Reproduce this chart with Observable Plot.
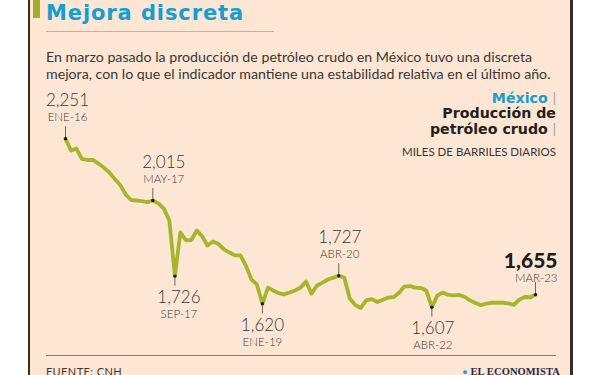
<!DOCTYPE html>
<html>
<head>
<meta charset="utf-8">
<script src="https://cdn.jsdelivr.net/npm/d3@7"></script>
<script src="https://cdn.jsdelivr.net/npm/@observablehq/plot@0.6"></script>
<style>
  html, body { margin: 0; padding: 0; background: #ffffff; }
  #wrap { position: relative; width: 600px; height: 375px; overflow: hidden; background: #ffffff; font-family: Lato, "Open Sans", sans-serif; color: #3b3634; }
  #panel { position: absolute; left: 28px; top: 0; width: 545px; height: 375px; background: #fde6d4; border-left: 2.5px solid #3a2b23; border-right: 3px solid #3a2b23; box-sizing: border-box; }
  #bar { position: absolute; left: 33px; top: 0; width: 7px; height: 18px; background: #a5ad2c; }
  .t { position: absolute; white-space: nowrap; line-height: 1; }
  #title { left: 46px; top: 3.2px; font-family: "DejaVu Sans", sans-serif; font-size: 21px; font-weight: 700; color: #169ed0; letter-spacing: 0.9px; }
  #rule1 { position: absolute; left: 46px; top: 31px; width: 228px; height: 1px; background: #a9b8bf; }
  #sub { position: absolute; left: 46px; top: 48px; font-size: 14.2px; line-height: 17px; color: #3b3634; white-space: nowrap; }
  .leg { right: 44px; text-align: right; font-family: "DejaVu Sans", sans-serif; font-size: 14.2px; font-weight: 700; color: #231f1e; }
  .pipe { color: #9b9694; font-family: Lato, sans-serif; font-weight: 400; font-size: 13px; }
  #rule2 { position: absolute; left: 46px; top: 355px; width: 510px; height: 1px; background: #85776f; }
  #src { left: 46px; top: 365.5px; font-size: 11px; color: #3b3634; letter-spacing: 0.4px; }
  #logo { right: 40px; top: 366.5px; font-family: "Liberation Serif", "DejaVu Serif", serif; font-size: 10.5px; font-weight: 700; color: #1e2a44; letter-spacing: 0.1px; }
  #logo span { color: #2aa3d6; font-size: 9px; }
  #chart { position: absolute; left: 0; top: 0; }
</style>
</head>
<body>
<div id="wrap">
  <div id="panel"></div>
  <div id="bar"></div>
  <div class="t" id="title">Mejora discreta</div>
  <div id="rule1"></div>
  <div id="sub">En marzo pasado la producción de petróleo crudo en México tuvo una discreta<br>mejora, con lo que el indicador mantiene una estabilidad relativa en el último año.</div>
  <div class="t leg" style="top:90.8px;"><span style="color:#169ed0;">México</span> <span class="pipe">|</span></div>
  <div class="t leg" style="top:105.7px;">Producción de</div>
  <div class="t leg" style="top:122.3px;">petróleo crudo <span class="pipe">|</span></div>
  <div class="t leg" style="top:145.8px; font-family: Lato, sans-serif; font-size:11.5px; font-weight:400; color:#3b3634;">MILES DE BARRILES DIARIOS</div>
  <div id="rule2"></div>
  <div class="t" id="src">FUENTE: CNH</div>
  <div class="t" id="logo"><span>●</span> EL ECONOMISTA</div>
  <div id="chart"></div>
</div>
<script>
// Monthly crude oil production, Mexico (thousand barrels per day), Jan 2016 – Mar 2023
const startYear = 2016;
const production = [
  2251, 2206, 2214, 2174, 2170, 2170, 2157, 2141, 2122, 2097, 2074, 2038,
  2017, 2015, 2013, 2009, 2015, 2004, 1984, 1939, 1726, 1893, 1863, 1864,
  1900, 1877, 1843, 1858, 1849, 1828, 1816, 1805, 1805, 1766, 1713, 1694,
  1620, 1682, 1671, 1661, 1656, 1663, 1671, 1682, 1705, 1659, 1690, 1701,
  1713, 1720, 1727, 1720, 1640, 1615, 1604, 1633, 1638, 1627, 1635, 1644,
  1646, 1663, 1686, 1688, 1682, 1680, 1671, 1607, 1652, 1663, 1654, 1652,
  1654, 1646, 1633, 1623, 1615, 1621, 1624, 1624, 1624, 1622, 1616, 1636,
  1646, 1645, 1655
];

// Annotated points
const markMonths = ["2016-01", "2017-05", "2017-09", "2019-01", "2020-03", "2021-08", "2023-03"];
const markValues = [2251, 2015, 1726, 1620, 1727, 1607, 1655];
const markLabels = ["ENE-16", "MAY-17", "SEP-17", "ENE-19", "ABR-20", "ABR-22", "MAR-23"];
const markSides  = ["up", "up", "down", "down", "up", "down", "up"];

const parseMonth = d3.utcParse("%Y-%m");
const fmt = d3.format(",");

const series = production.map((v, i) => ({date: new Date(Date.UTC(startYear, i, 1)), value: v}));
const marks = markMonths.map((m, i) => ({date: parseMonth(m), value: markValues[i], label: markLabels[i], side: markSides[i]}));

const up = marks.filter(d => d.side === "up");
const down = marks.filter(d => d.side === "down");

const ink = "#3b3634";
const shift = {"ENE-16": 2, "MAY-17": 11, "SEP-17": 4, "ABR-20": 1, "ABR-22": 1};

const labelMarks = [];
for (const d of marks) {
  if (d.label === "MAR-23") {
    labelMarks.push(
      Plot.text([d], {x: "date", y: "value", text: d => fmt(d.value), dx: 22, dy: -27, textAnchor: "end", lineAnchor: "bottom", fontSize: 21, fontWeight: 900, fill: "#1d1a19"}),
      Plot.text([d], {x: "date", y: "value", text: "label", dx: 22, dy: -12.5, textAnchor: "end", lineAnchor: "bottom", fontSize: 11.5, fontWeight: 300, fill: ink})
    );
  } else if (d.side === "up") {
    labelMarks.push(
      Plot.text([d], {x: "date", y: "value", text: d => fmt(d.value), dx: shift[d.label] || 0, dy: -33, lineAnchor: "bottom", fontSize: 17, fontWeight: 300, fill: ink}),
      Plot.text([d], {x: "date", y: "value", text: "label", dx: shift[d.label] || 0, dy: -18, lineAnchor: "bottom", fontSize: 11.5, fontWeight: 300, fill: ink})
    );
  } else {
    labelMarks.push(
      Plot.text([d], {x: "date", y: "value", text: d => fmt(d.value), dx: shift[d.label] || 0, dy: 27, lineAnchor: "bottom", fontSize: 17, fontWeight: 300, fill: ink}),
      Plot.text([d], {x: "date", y: "value", text: "label", dx: shift[d.label] || 0, dy: 42, lineAnchor: "bottom", fontSize: 11.5, fontWeight: 300, fill: ink})
    );
  }
}

const chart = Plot.plot({
  width: 600,
  height: 375,
  style: {background: "transparent", overflow: "visible", fontFamily: "Lato, 'Open Sans', sans-serif"},
  x: {type: "utc", domain: [series[0].date, series[series.length - 1].date], range: [65, 535], axis: null},
  y: {domain: [1620, 2251], range: [303.3, 138.3], axis: null},
  marks: [
    Plot.ruleX(up, {x: "date", y1: "value", y2: "value", insetTop: -12, stroke: "#4a4340", strokeWidth: 0.8}),
    Plot.ruleX(down, {x: "date", y1: "value", y2: "value", insetBottom: -10, stroke: "#4a4340", strokeWidth: 0.8}),
    Plot.line(series, {x: "date", y: "value", stroke: "#a6b62a", strokeWidth: 3.8, strokeLinejoin: "round", strokeLinecap: "round"}),
    Plot.dot(marks, {x: "date", y: "value", r: 1.7, fill: "#1d1a19"}),
    ...labelMarks
  ]
});
document.getElementById("chart").appendChild(chart);
</script>
</body>
</html>
